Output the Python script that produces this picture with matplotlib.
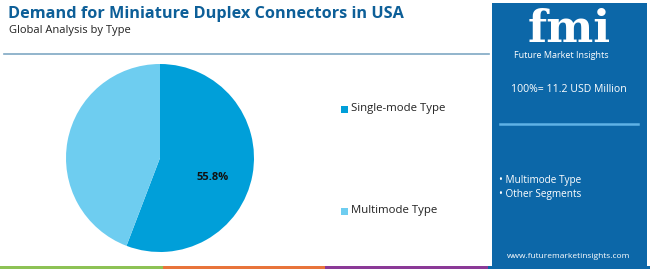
import numpy as np
import matplotlib
matplotlib.use("Agg")
import matplotlib.pyplot as plt
from matplotlib.patches import Rectangle

categories = ["Single-mode Type", "Multimode Type"]
shares = [55.8, 44.2]
colors = ["#009fd9", "#6ecdf0"]
title = "Demand for Miniature Duplex Connectors in USA"
subtitle = "Global Analysis by Type"
total_text = "100%= 11.2 USD Million"
panel_items = ["Multimode Type", "Other Segments"]
bar_colors = ["#8dc255", "#e8743b", "#8b3a97", "#0c67a8"]

plt.rcParams['font.family'] = ['Open Sans', 'DejaVu Sans']
W, H = 650, 269
fig = plt.figure(figsize=(W/100, H/100), dpi=100)
fig.patch.set_facecolor("white")

def fx(x): return x / W
def fy(y): return 1 - y / H

# Title and subtitle
fig.text(fx(8), fy(14), title, fontsize=11.7, fontweight="bold", color="#0d5f98", va="center", ha="left")
fig.text(fx(9), fy(31), subtitle, fontsize=8, color="#222222", va="center", ha="left")

# Separator line under title
fig.add_artist(plt.Line2D([fx(4), fx(489)], [fy(54), fy(54)], color="#7fa8c4", lw=1.2))

# Bottom color bar
seg_w = W / 4
for i, c in enumerate(bar_colors):
    fig.add_artist(Rectangle((fx(i*seg_w), 0), fx(seg_w), 3/H, transform=fig.transFigure, color=c, lw=0))

# Right panel
fig.add_artist(Rectangle((fx(492), fy(266)), fx(155), (263)/H, transform=fig.transFigure,
                         facecolor="#0c67a8", edgecolor="none"))
fig.text(fx(569), fy(29), "fmi", fontsize=32, fontweight="bold", color="white", ha="center", va="center",
         family=["DejaVu Serif"])
fig.text(fx(561), fy(56), "Future Market Insights", fontsize=6.5, color="white", ha="center", va="center")
fig.text(fx(569), fy(90), total_text, fontsize=7.6, color="white", ha="center", va="center")
fig.add_artist(plt.Line2D([fx(500), fx(638)], [fy(124), fy(124)], color="#5fb2e6", lw=1.8))
for i, item in enumerate(panel_items):
    fig.text(fx(499), fy(181 + 13*i), "\u2022 " + item, fontsize=7.2, color="white", ha="left", va="center")
fig.text(fx(569), fy(257), "www.futuremarketinsights.com", fontsize=6, color="white", ha="center", va="center")

# Pie
cx, cy, r = 160, 158, 94
ax = fig.add_axes([fx(cx - r), fy(cy + r), 2*r/W, 2*r/H])
wedges, _ = ax.pie(shares, colors=colors, startangle=90, counterclock=False,
                   wedgeprops=dict(linewidth=0))
ax.set_xlim(-1, 1)
ax.set_ylim(-1, 1)
ax.set_aspect("auto")
ax.axis("off")
w0 = wedges[0]
mid = np.deg2rad((w0.theta1 + w0.theta2) / 2)
ax.text(0.6*np.cos(mid) - 0.03, 0.6*np.sin(mid) - 0.1, f"{shares[0]:.1f}%", fontsize=8,
        fontweight="bold", color="#111111", ha="center", va="center")

# Legend
legend_y = [109, 211]
for name, c, y in zip(categories, colors, legend_y):
    fig.add_artist(Rectangle((fx(341), fy(y + 3.5)), 7/W, 7/H, transform=fig.transFigure, color=c, lw=0))
    fig.text(fx(351), fy(y), name, fontsize=8.2, color="#222222", ha="left", va="center")

fig.savefig("out.png", dpi=100)
